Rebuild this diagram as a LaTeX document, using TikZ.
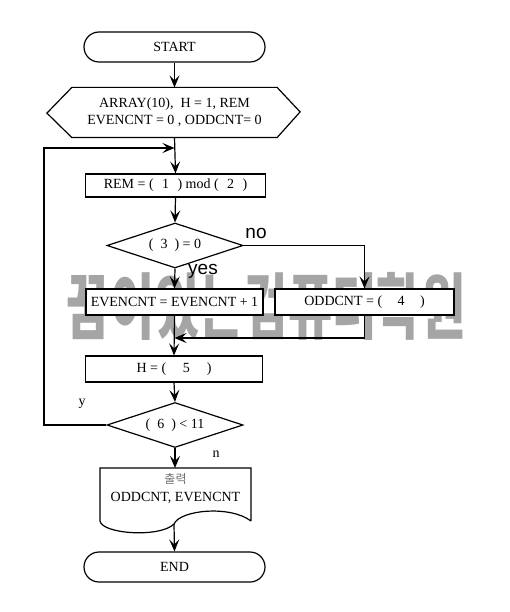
\documentclass[tikz,border=0pt]{standalone}
\usepackage{fontspec}
\setmainfont{Liberation Serif}
\newfontfamily\sansf{Liberation Sans}
\newfontfamily\kr{Noto Sans CJK KR}
\usetikzlibrary{shapes.geometric,arrows.meta}
\definecolor{wm}{RGB}{165,165,165}
\definecolor{krgray}{RGB}{110,110,110}
\begin{document}
\begin{tikzpicture}[x=1pt,y=-1pt,
  line width=1.2pt,
  >={Stealth[length=12pt,width=10pt,inset=5pt]},
  txt/.style={font=\fontsize{14}{17}\selectfont},
  procbox/.style={draw,fill=white,rectangle,minimum width=177pt,minimum height=26pt,inner sep=0pt,txt},
  termbox/.style={draw,fill=white,rectangle,rounded corners=15pt,minimum width=181pt,minimum height=30pt,inner sep=0pt,txt},
  decbox/.style={draw,fill=white,diamond,aspect=3,minimum width=136pt,minimum height=45pt,inner sep=0pt,txt},
  lbl/.style={font=\sansf\fontsize{19}{19}\selectfont,inner sep=0pt},
  slbl/.style={font=\fontsize{14}{14}\selectfont,inner sep=0pt},
  flow/.style={->}]
\useasboundingbox (0,0) rectangle (510,612);
% watermark
\node[text=wm,inner sep=0pt,font=\kr\bfseries\fontsize{72}{72}\selectfont] (wmark) at (266,306) {\scalebox{0.67}[1]{꿈이있는컴퓨터학원}};
% nodes
\node[termbox] (start) at (174.5,47) {START};
\node[txt,align=center,minimum width=204pt,minimum height=49pt,inner sep=0pt] (init) at (174.5,112.5) {ARRAY(10),\ \ H = 1, REM\\EVENCNT = 0 , ODDCNT= 0};
\draw (init.north west) -- (init.north east) -- ++(23,24.5) -- (init.south east) -- (init.south west) -- ++(-25,-24.5) -- cycle;
\node[procbox,minimum width=180pt,minimum height=23pt] (rem) at (175.5,185.5) {REM = (\hspace{0.6em}1\hspace{0.6em}) mod (\hspace{0.6em}2\hspace{0.6em})};
\node[decbox] (d1) at (175,245.5) {(\ \ 3\ \ ) = 0};
\node[procbox] (even) at (174.5,302) {EVENCNT = EVENCNT + 1};
\node[procbox,minimum width=179pt] (odd) at (364.5,302) {ODDCNT = (\hspace{1.1em}4\hspace{1.1em})};
\node[procbox] (h) at (174,369) {H = (\hspace{1.2em}5\hspace{1.2em})};
\node[decbox] (d2) at (175,425) {(\ \ 6\ \ ) < 11};
\node[txt,align=center,inner sep=0pt,font=\fontsize{14}{18}\selectfont] (outtxt) at (175.5,489) {{\kr\fontsize{12}{14}\selectfont\color{krgray}출력}\\ODDCNT, EVENCNT};
\draw (251,521) -- (251,468) -- (100,468) -- (100,521) .. controls (102,534) and (160,538) .. (174,524) .. controls (180,510) and (230,505) .. (251,521);
\coordinate (doctop) at (175,468);
\coordinate (docbot) at (174,524);
\node[termbox] (end) at (174.5,567) {END};
\coordinate (mrg) at (174.5,338);
\coordinate (lc) at (44,148);
\coordinate (loopin) at (174.5,148);
% labels
\node[lbl] (no) at (256,233) {no};
\node[lbl] (yes) at (203,271) {yes};
\node[slbl] (ylab) at (82,404) {y};
\node[slbl] (nlab) at (216,454) {n};
% connectors
\draw[flow] (start.south) -- (init.north);
\draw[flow] (init.south) -- (rem.north);
\draw[flow] (rem.south) -- (d1.north);
\draw[flow] (d1.south) -- (even.north);
\draw[flow] (d1.east) -| (odd.north);
\draw[flow] (odd.south) |- (mrg);
\draw[flow] (even.south) -- (h.north);
\draw[flow] (h.south) -- (d2.north);
\draw[flow] (d2.west) -| (lc) -- (loopin);
\draw[flow] (d2.south) -- (doctop);
\draw[flow] (docbot) -- (end.north);
\end{tikzpicture}
\end{document}
